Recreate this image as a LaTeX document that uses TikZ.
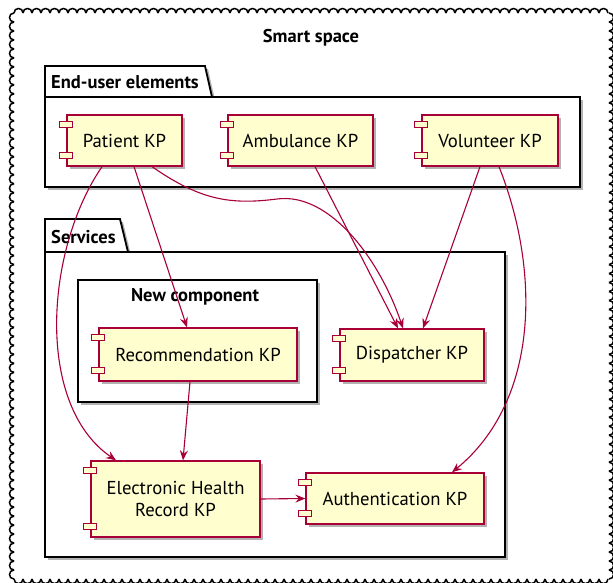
\documentclass[tikz,border=0pt]{standalone}
\usepackage{fontspec}
\setmainfont{PT Sans}
\usetikzlibrary{arrows.meta,shadows,calc}
\definecolor{crim}{HTML}{A80036}
\definecolor{compfill}{HTML}{FEFECE}
\tikzset{
  framebump/.style={draw=black, line width=1.5pt},
  pkg/.style={draw=black, line width=1.8pt, fill=white,
    drop shadow={shadow xshift=3pt, shadow yshift=-3pt, opacity=0.3, fill=black}},
  comp/.style={draw=crim, line width=1.3pt, fill=compfill, font=\fontsize{18.7}{21.5}\selectfont,
    align=center, inner sep=0pt,
    drop shadow={shadow xshift=3pt, shadow yshift=-3pt, opacity=0.3, fill=black}},
  pin/.style={draw=crim, line width=1.3pt, fill=compfill},
  arr/.style={draw=crim, line width=1.1pt, -{Stealth[length=10pt,width=8pt,inset=3.5pt]}},
  ttl/.style={font=\fontsize{18.5}{21}\selectfont\bfseries, inner sep=0pt},
}
\newcommand{\mycomp}[6]{%
  \node[comp, minimum width=#4pt, minimum height=#5pt] (#1) at (#2,#3) {#6};
  \draw[pin] ($(#1.north west)+(-7,7)$) rectangle ++(13,6);
  \draw[pin] ($(#1.south west)+(-7,-14)$) rectangle ++(13,6);
}
\begin{document}
\begin{tikzpicture}[x=1pt,y=-1pt]
\useasboundingbox (0,0) rectangle (613,583);
\fill[white] (0,0) rectangle (613,583);
% cloud frame
\foreach \i in {0,...,65} {
  \pgfmathsetmacro\xa{14+\i*9}
  \draw[framebump] (\xa,13) .. controls (\xa,7) and (\xa+9,7) .. (\xa+9,13);
  \draw[framebump] (\xa,579) .. controls (\xa,585) and (\xa+9,585) .. (\xa+9,579);
}
\foreach \i in {0,...,62} {
  \pgfmathsetmacro\ya{13+\i*8.984}
  \draw[framebump] (14,\ya) .. controls (8,\ya) and (8,\ya+8.984) .. (14,\ya+8.984);
  \draw[framebump] (609,\ya) .. controls (615,\ya) and (615,\ya+8.984) .. (609,\ya+8.984);
}
\node[ttl] (smart) at (311,38) {Smart space};
% End-user package
\draw[pkg] (45,97) -- (45,66) -- (205,66) -- (212,97) -- cycle;
\draw[pkg] (45,97) rectangle (580,187);
\node[ttl, anchor=west] (eu) at (51,82) {End-user elements};
% Services package
\draw[pkg] (45,252) -- (45,219) -- (120,219) -- (128,252) -- cycle;
\draw[pkg] (45,252) rectangle (505,557);
\node[ttl, anchor=west] (sv) at (51,237) {Services};
% New component
\draw[pkg] (78,280) rectangle (317,402);
\node[ttl] (nc) at (195,297) {New component};
% components
\mycomp{patient}{124.5}{140.5}{115}{51}{Patient KP}
\mycomp{amb}{300.5}{140.5}{145}{51}{Ambulance KP}
\mycomp{vol}{490}{140.5}{136}{51}{Volunteer KP}
\mycomp{rec}{198}{354.5}{198}{53}{Recommendation KP}
\mycomp{disp}{412}{355}{144}{52}{Dispatcher KP}
\mycomp{ehr}{175.5}{499}{169}{76}{Electronic Health\\Record KP}
\mycomp{auth}{395}{498.5}{178}{51}{Authentication KP}
% connectors
\draw[arr] ([xshift=9.5pt]patient.south) -- ([xshift=-11pt]rec.north);
\draw[arr] ([xshift=-22.5pt]patient.south) .. controls (45,250) and (35,405) .. ([xshift=-59.5pt]ehr.north);
\draw[arr] ([xshift=27.5pt]patient.south) .. controls (200,200) and (230,205) .. (277,199)
   .. controls (330,192) and (380,260) .. ([xshift=-9pt]disp.north);
\draw[arr] ([xshift=14.5pt]amb.south) -- ([xshift=-14pt]disp.north);
\draw[arr] ([xshift=-10pt]vol.south) -- ([xshift=11pt]disp.north);
\draw[arr] ([xshift=9pt]vol.south) .. controls (540,270) and (540,400) .. ([xshift=57pt]auth.north);
\draw[arr] ([xshift=-8pt]rec.south) -- ([xshift=7.5pt]ehr.north);
\draw[arr] (ehr.east) -- (auth.west);
\end{tikzpicture}
\end{document}
